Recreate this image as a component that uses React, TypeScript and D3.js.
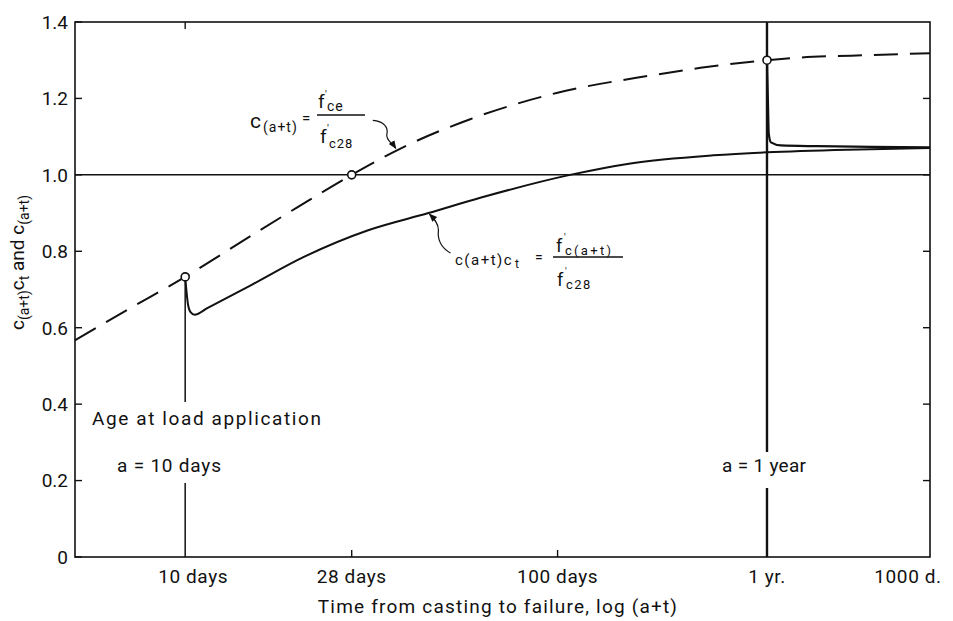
import React from "react";
import * as d3 from "d3";

// axis ticks (days on a log scale) and labels
const xTicks = [10, 28, 100, 365, 1000];
const xTickLabels = ["10 days", "28 days", "100 days", "1 yr.", "1000 d."];
const yTicks = [0, 0.2, 0.4, 0.6, 0.8, 1.0, 1.2, 1.4];
const yTickLabels = ["0", "0.2", "0.4", "0.6", "0.8", "1.0", "1.2", "1.4"];

// c(a+t) = f'ce / f'c28 (dashed)
const ratioDays = [5.06, 7, 10, 15, 20, 28, 40, 58, 100, 178, 242, 365, 447, 614, 1000];
const ratioValues = [0.567, 0.647, 0.733, 0.84, 0.915, 1.0, 1.08, 1.145, 1.215, 1.26, 1.28, 1.3, 1.307, 1.312, 1.318];

// c(a+t)ct, load applied at 10 days
const load10Days = [10, 10.07, 10.18, 10.35, 10.6, 11.5, 15, 20.7, 31, 45, 62, 108, 157, 262, 365, 600, 1000];
const load10Values = [0.733, 0.7, 0.66, 0.64, 0.634, 0.652, 0.711, 0.784, 0.855, 0.9, 0.94, 1.0, 1.03, 1.051, 1.059, 1.066, 1.07];

// c(a+t)ct, load applied at 1 year
const load1yrDays = [365, 367, 369, 374, 398, 500, 700, 1000];
const load1yrValues = [1.3, 1.2, 1.108, 1.085, 1.077, 1.075, 1.073, 1.072];

// open circles
const markerDays = [10, 28, 365];
const markerValues = [0.733, 1.0, 1.3];

const width = 953, height = 621;
const left = 75, right = 930, top = 22, bottom = 557;
const font = "Roboto, 'DejaVu Sans', sans-serif";
const ink = "#111";

const App = () => {
  const x = d3.scaleLog().domain([5.06, 1000]).range([left, right]);
  const y = d3.scaleLinear().domain([0, 1.4]).range([bottom, top]);

  const line = d3.line<[number, number]>()
    .x(d => x(d[0]))
    .y(d => y(d[1]))
    .curve(d3.curveMonotoneX);

  const zip = (a: number[], b: number[]) => a.map((v, i) => [v, b[i]] as [number, number]);

  const textY = 472;
  const ageY = 425;

  // leader tips on the curves
  const t1 = [x(37), y(1.064)];
  const t2 = [x(45), y(0.9)];

  return (
    <svg width={width} height={height} style={{ position: "absolute", left: 0, top: 0, background: "#fff" }}
      fontFamily={font} fill={ink}>
      <defs>
        <marker id="arr" viewBox="0 0 10 10" refX="9" refY="5" markerWidth="7" markerHeight="7" orient="auto">
          <path d="M0,1 L10,5 L0,9 z" fill={ink} />
        </marker>
      </defs>

      {/* frame */}
      <rect x={left} y={top} width={right - left} height={bottom - top} fill="none" stroke={ink} strokeWidth={1.6} />

      {/* y ticks, both sides */}
      {yTicks.map((t, i) => (
        <g key={"y" + i}>
          <line x1={left} x2={left + 7} y1={y(t)} y2={y(t)} stroke={ink} strokeWidth={1.4} />
          {t > 0 && t < 1.4 && (
            <line x1={right - 7} x2={right} y1={y(t)} y2={y(t)} stroke={ink} strokeWidth={1.4} />
          )}
          <text x={left - 7} y={y(t)} dy="0.36em" textAnchor="end" fontSize={19}>{yTickLabels[i]}</text>
        </g>
      ))}

      {/* x ticks */}
      {xTicks.map((t, i) => {
        const shift = i === 0 ? 8 : i === 4 ? -22 : 0;
        return (
          <g key={"x" + i}>
            {(t === 28 || t === 100) && (
              <line x1={x(t)} x2={x(t)} y1={bottom} y2={bottom - 7} stroke={ink} strokeWidth={1.4} />
            )}
            {t === 10 && <line x1={x(t)} x2={x(t)} y1={top} y2={top + 7} stroke={ink} strokeWidth={1.4} />}
            <text x={x(t) + shift} y={583} textAnchor="middle" fontSize={19} letterSpacing={0.6}>{xTickLabels[i]}</text>
          </g>
        );
      })}

      {/* reference line at 1.0 */}
      <line x1={left} x2={right} y1={y(1)} y2={y(1)} stroke={ink} strokeWidth={1.5} />

      {/* load application verticals */}
      <line x1={x(10)} x2={x(10)} y1={y(0.733) + 4} y2={ageY - 23} stroke={ink} strokeWidth={1.5} />
      <line x1={x(10)} x2={x(10)} y1={textY + 11} y2={bottom} stroke={ink} strokeWidth={1.5} />
      <line x1={x(365)} x2={x(365)} y1={top} y2={textY - 20} stroke={ink} strokeWidth={2.4} />
      <line x1={x(365)} x2={x(365)} y1={textY + 16} y2={bottom} stroke={ink} strokeWidth={2.4} />

      {/* curves */}
      <path d={line(zip(ratioDays, ratioValues)) || ""} fill="none" stroke={ink} strokeWidth={2} strokeDasharray="24 12" />
      <path d={line(zip(load10Days, load10Values)) || ""} fill="none" stroke={ink} strokeWidth={2} />
      <path d={line(zip(load1yrDays, load1yrValues)) || ""} fill="none" stroke={ink} strokeWidth={2.2} />

      {markerDays.map((d, i) => (
        <circle key={"m" + i} cx={x(d)} cy={y(markerValues[i])} r={4} fill="#fff" stroke={ink} strokeWidth={1.6} />
      ))}

      {/* annotations */}
      <text x={92} y={ageY} fontSize={19} letterSpacing={1.6}>Age at load application</text>
      <text x={117} y={textY} fontSize={19} letterSpacing={0.8}>a = 10 days</text>
      <text x={722} y={textY} fontSize={19} letterSpacing={0.3}>a = 1 year</text>

      {/* formula 1 */}
      <g>
        <text x={250} y={128} fontSize={21}>c</text>
        <text x={263} y={132} fontSize={14} letterSpacing={1}>(a+t)</text>
        <text x={302} y={123} fontSize={15}>=</text>
        <text x={318} y={108} fontSize={19}>f</text>
        <text x={325} y={98} fontSize={11}>′</text>
        <text x={327} y={111} fontSize={14} letterSpacing={1}>ce</text>
        <line x1={317} x2={365} y1={115} y2={115} stroke={ink} strokeWidth={1.5} />
        <text x={320} y={143} fontSize={19}>f</text>
        <text x={327} y={132} fontSize={11}>′</text>
        <text x={329} y={148} fontSize={13} letterSpacing={1}>c28</text>
      </g>
      <path d={`M${t1[0] - 24},${t1[1] - 30} C${t1[0] - 13},${t1[1] - 29} ${t1[0] - 8},${t1[1] - 23} ${t1[0] - 10},${t1[1] - 16} C${t1[0] - 11},${t1[1] - 10} ${t1[0] - 5},${t1[1] - 8} ${t1[0] - 1},${t1[1] - 2}`}
        fill="none" stroke={ink} strokeWidth={1.2} markerEnd="url(#arr)" />

      {/* formula 2 */}
      <g>
        <text x={455} y={265} fontSize={15} letterSpacing={1.5}>c(a+t)c</text>
        <text x={515} y={268} fontSize={12}>t</text>
        <text x={535} y={262} fontSize={14}>=</text>
        <text x={556} y={252} fontSize={18}>f</text>
        <text x={564} y={241} fontSize={10}>′</text>
        <text x={565} y={255} fontSize={13} letterSpacing={2.3}>c(a+t)</text>
        <line x1={553} x2={623} y1={257} y2={257} stroke={ink} strokeWidth={1.6} />
        <text x={557} y={286} fontSize={18}>f</text>
        <text x={565} y={275} fontSize={10}>′</text>
        <text x={566} y={289} fontSize={13} letterSpacing={1.5}>c28</text>
      </g>
      <path d={`M${t2[0] + 22},${t2[1] + 40} C${t2[0] + 12},${t2[1] + 34} ${t2[0] + 9},${t2[1] + 25} ${t2[0] + 10},${t2[1] + 17} C${t2[0] + 10},${t2[1] + 10} ${t2[0] + 5},${t2[1] + 5} ${t2[0] + 1},${t2[1] + 1}`}
        fill="none" stroke={ink} strokeWidth={1.2} markerEnd="url(#arr)" />

      {/* y axis title, read bottom to top */}
      <text transform="translate(24,330) rotate(-90)" textAnchor="start" fontSize={19}>
        <tspan>c</tspan>
        <tspan fontSize={14} dy={5}>(a+t)</tspan>
        <tspan dy={-5}>c</tspan>
        <tspan fontSize={14} dy={5}>t</tspan>
        <tspan dy={-5}>{" and c"}</tspan>
        <tspan fontSize={14} dy={5}>(a+t)</tspan>
      </text>

      {/* x axis title */}
      <text x={498} y={613} textAnchor="middle" fontSize={19} letterSpacing={1.2}>Time from casting to failure, log (a+t)</text>
    </svg>
  );
};

export default App;
